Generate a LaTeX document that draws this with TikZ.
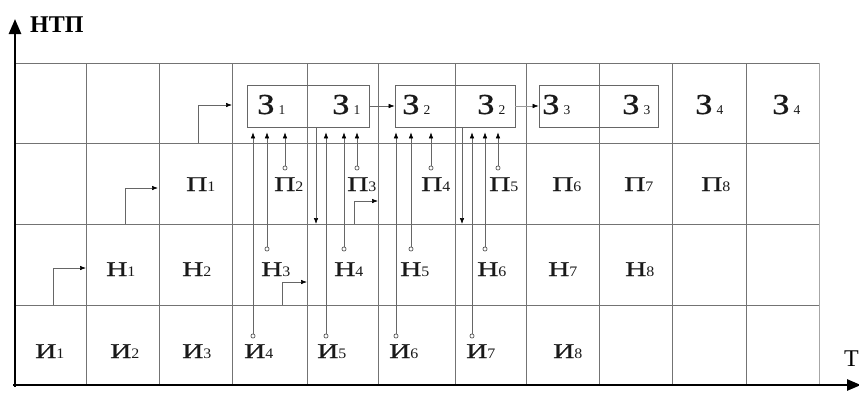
\documentclass[tikz,border=0pt]{standalone}
\usepackage{fontspec}
\usepackage{graphicx}
\setmainfont{Liberation Serif}
\newfontfamily\lblfont[FakeBold=0.6]{Liberation Serif}
\usetikzlibrary{arrows.meta}
\newcommand{\lab}[2]{\scalebox{1.4}[1]{\lblfont\fontsize{21}{21}\selectfont #1}\scalebox{1.1}[1]{\fontsize{14.5}{14.5}\selectfont #2}}
\newcommand{\zlab}[1]{\scalebox{1.2}[1]{\lblfont\fontsize{29}{29}\selectfont З}\hspace{4pt}{\fontsize{13.5}{13.5}\selectfont #1}}
\begin{document}
\begin{tikzpicture}[x=1pt,y=-1pt,
  gridline/.style={draw=black!55,line width=0.7pt},
  conn/.style={draw=black!60,line width=0.6pt,-{Latex[length=6pt,width=4.5pt,black]}},
  ring/.style={circle,draw=black!75,fill=white,line width=0.6pt,inner sep=0pt,minimum size=4.2pt},
  zbox/.style={draw=black!60,line width=0.7pt,rectangle,inner sep=0pt,minimum height=42pt},
  txt/.style={anchor=base west,inner sep=0pt,text=black!90},
  axisline/.style={line width=2.6pt,black}]
\useasboundingbox (0,0) rectangle (859,394);

% grid
\foreach \x in {86,159,232,307,378,455,526,599,672,746}
  \draw[gridline] (\x,63) -- (\x,385);
\draw[gridline,draw=black!35] (819,63) -- (819,385);
\foreach \y in {63,143,224,305}
  \draw[gridline] (15,\y) -- (819,\y);

% boxes
\node[zbox,minimum width=122pt] (b1) at (308,106) {};
\node[zbox,minimum width=120pt] (b2) at (455,106) {};
\node[zbox,minimum width=119pt] (b3) at (598.5,106) {};

% top row labels
\node[txt] (z1a) at (257,114) {\zlab{1}};
\node[txt] (z1b) at (332,114) {\zlab{1}};
\node[txt] (z2a) at (402,114) {\zlab{2}};
\node[txt] (z2b) at (477,114) {\zlab{2}};
\node[txt] (z3a) at (542,114) {\zlab{3}};
\node[txt] (z3b) at (622,114) {\zlab{3}};
\node[txt] (z4a) at (695,114) {\zlab{4}};
\node[txt] (z4b) at (772,114) {\zlab{4}};

% П row
\node[txt] (p1) at (186,191) {\lab{П}{1}};
\node[txt] (p2) at (274,191) {\lab{П}{2}};
\node[txt] (p3) at (347,191) {\lab{П}{3}};
\node[txt] (p4) at (421,191) {\lab{П}{4}};
\node[txt] (p5) at (489,191) {\lab{П}{5}};
\node[txt] (p6) at (552,191) {\lab{П}{6}};
\node[txt] (p7) at (624,191) {\lab{П}{7}};
\node[txt] (p8) at (701,191) {\lab{П}{8}};

% Н row
\node[txt] (n1) at (106,276) {\lab{Н}{1}};
\node[txt] (n2) at (182,276) {\lab{Н}{2}};
\node[txt] (n3) at (261,276) {\lab{Н}{3}};
\node[txt] (n4) at (334,276) {\lab{Н}{4}};
\node[txt] (n5) at (400,276) {\lab{Н}{5}};
\node[txt] (n6) at (477,276) {\lab{Н}{6}};
\node[txt] (n7) at (548,276) {\lab{Н}{7}};
\node[txt] (n8) at (625,276) {\lab{Н}{8}};

% И row
\node[txt] (i1) at (35,358) {\lab{И}{1}};
\node[txt] (i2) at (110,358) {\lab{И}{2}};
\node[txt] (i3) at (182,358) {\lab{И}{3}};
\node[txt] (i4) at (244,358) {\lab{И}{4}};
\node[txt] (i5) at (317,358) {\lab{И}{5}};
\node[txt] (i6) at (389,358) {\lab{И}{6}};
\node[txt] (i7) at (466,358) {\lab{И}{7}};
\node[txt] (i8) at (553,358) {\lab{И}{8}};

% rings
\node[ring] (rp2) at (285,168) {};
\node[ring] (rp3) at (357,168) {};
\node[ring] (rp4) at (431,168) {};
\node[ring] (rp5) at (498,168) {};
\node[ring] (rn3) at (267,249) {};
\node[ring] (rn4) at (344,249) {};
\node[ring] (rn5) at (411,249) {};
\node[ring] (rn6) at (485,249) {};
\node[ring] (ri4) at (253,336) {};
\node[ring] (ri5) at (326,336) {};
\node[ring] (ri6) at (396,336) {};
\node[ring] (ri7) at (472,336) {};

% up connectors into boxes
\foreach \r in {ri4,rn3,rp2,ri5,rn4,rp3}
  \draw[conn,shorten >=5pt] (\r.north) -- (\r.north |- b1.south);
\foreach \r in {ri6,rn5,rp4,ri7,rn6,rp5}
  \draw[conn,shorten >=5pt] (\r.north) -- (\r.north |- b2.south);

% down connectors
\coordinate (d1) at (316,224);
\coordinate (d2) at (462,224);
\draw[conn] (b1.south -| d1) -- (d1);
\draw[conn] (b2.south -| d2) -- (d2);

% box to box
\draw[conn] (b1.east) -- (b2.west);
\draw[conn,draw=black!40] (b2.east) -- (b3.west);

% elbow connectors
\coordinate (e1s) at (198,143); \coordinate (e1t) at (232,105);
\coordinate (e2s) at (125,224); \coordinate (e2t) at (158,188);
\coordinate (e3s) at (53,305);  \coordinate (e3t) at (86,268);
\coordinate (e4s) at (282,305); \coordinate (e4t) at (307,282);
\coordinate (e5s) at (354,224); \coordinate (e5t) at (378,201);
\draw[conn] (e1s) |- (e1t);
\draw[conn] (e2s) |- (e2t);
\draw[conn] (e3s) |- (e3t);
\draw[conn] (e4s) |- (e4t);
\draw[conn] (e5s) |- (e5t);

% axes
\coordinate (ytop) at (15,19);
\coordinate (xend) at (861,385);
\draw[axisline,-{Triangle[length=15pt,width=12pt]}] (15,387) -- (ytop);
\draw[axisline,-{Triangle[length=14pt,width=11pt]}] (13,385) -- (xend);
\node[anchor=base west,inner sep=0pt,font=\fontsize{24}{24}\selectfont\bfseries] (ntp) at (30,32) {НТП};
\node[anchor=base west,inner sep=0pt,font=\fontsize{24}{24}\selectfont] (tlab) at (844,366) {Т};
\end{tikzpicture}
\end{document}
